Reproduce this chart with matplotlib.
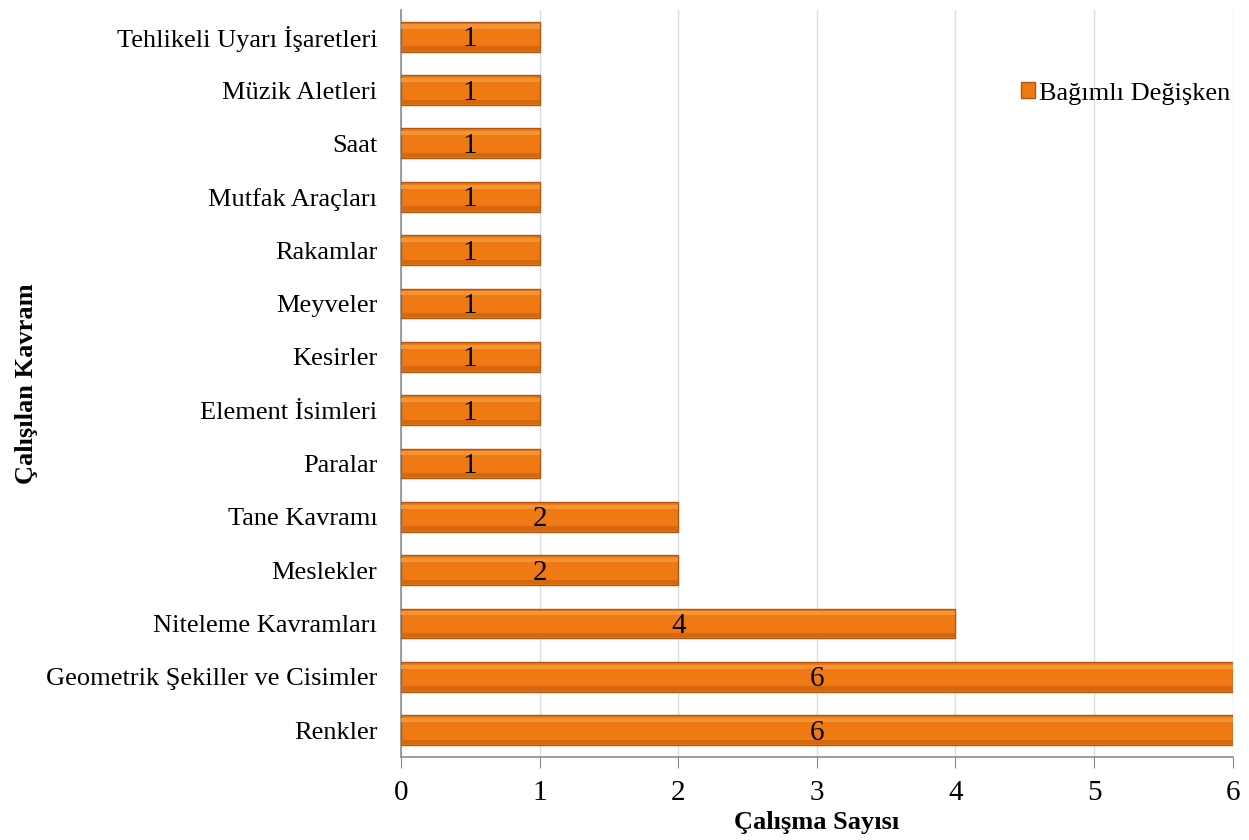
import matplotlib.pyplot as plt

# Data (top to bottom as in the chart)
categories = ['Tehlikeli Uyarı İşaretleri', 'Müzik Aletleri', 'Saat', 'Mutfak Araçları',
              'Rakamlar', 'Meyveler', 'Kesirler', 'Element İsimleri', 'Paralar',
              'Tane Kavramı', 'Meslekler', 'Niteleme Kavramları',
              'Geometrik Şekiller ve Cisimler', 'Renkler']
counts = [1, 1, 1, 1, 1, 1, 1, 1, 1, 2, 2, 4, 6, 6]
series_name = 'Bağımlı Değişken'

plt.rcParams['font.family'] = ['Liberation Serif', 'DejaVu Serif']

fig = plt.figure(figsize=(12.49, 8.40), dpi=100)
ax = fig.add_axes([0.321, 0.099, 0.666, 0.889])

# reverse so the first category ends up on top
ypos = list(range(len(categories)))[::-1]

bars = ax.barh(ypos, counts, height=0.56, color='#EF7A13', edgecolor='#B0560E',
               linewidth=1.0, label=series_name, zorder=3)
# soft highlight along the top of each bar
ax.barh([y + 0.19 for y in ypos], counts, height=0.08, color='#F6973A',
        linewidth=0, zorder=4, alpha=0.9)
# darker band along the bottom
ax.barh([y - 0.22 for y in ypos], counts, height=0.08, color='#D0670F',
        linewidth=0, zorder=4, alpha=0.9)

for y, v in zip(ypos, counts):
    ax.text(v / 2, y - 0.05, str(v), ha='center', va='center', fontsize=21,
            color='black', zorder=5)

ax.set_xlim(0, 6)
ax.set_ylim(-0.5, len(categories) - 0.5)
ax.set_yticks(ypos)
ax.set_yticklabels(categories, fontsize=19)
ax.set_xticks(range(0, 7))
ax.tick_params(axis='x', labelsize=21, length=8, color='#888888', direction='out', pad=9)
ax.tick_params(axis='y', length=0, pad=17)

ax.grid(axis='x', color='#D5DEE8', linewidth=1, zorder=0)
for s in ['top', 'right']:
    ax.spines[s].set_visible(False)
for s in ['left', 'bottom']:
    ax.spines[s].set_color('#8C8C8C')
    ax.spines[s].set_linewidth(1.2)

ax.set_xlabel('Çalışma Sayısı', fontsize=19, fontweight='bold')
ax.xaxis.set_label_coords(0.5, -0.072)
ax.set_ylabel('Çalışılan Kavram', fontsize=19, fontweight='bold')
ax.yaxis.set_label_coords(-0.436, 0.5)

ax.legend(handles=[bars], loc='upper right', bbox_to_anchor=(1.026, 0.935), frameon=False,
          fontsize=19, handlelength=0.55, handleheight=0.55, handletextpad=0.15)

fig.savefig('out.png', dpi=100)
